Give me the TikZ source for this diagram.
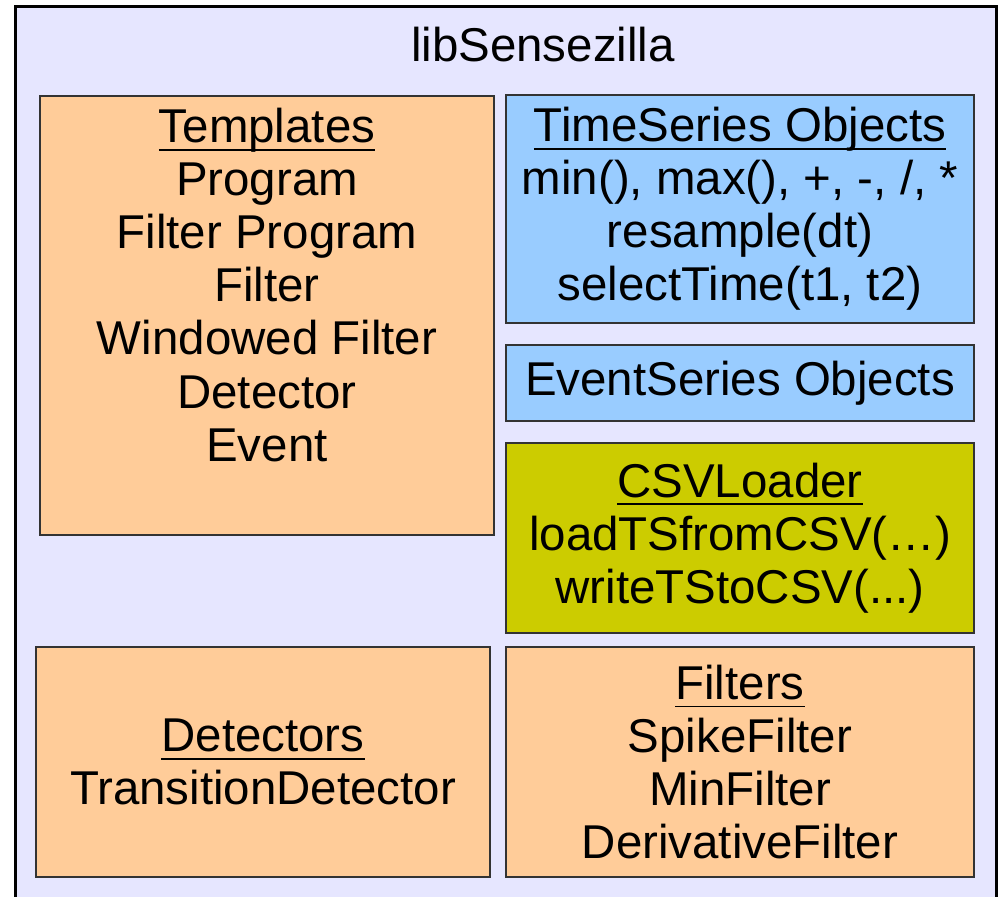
\documentclass[tikz,border=0pt]{standalone}
\usepackage{xcolor}
\usepackage{fontspec}
\setmainfont{Liberation Sans}
\usepackage{tikz}

\definecolor{lavanda}{HTML}{E6E6FF}
\definecolor{laranja}{HTML}{FFCC99}
\definecolor{azul}{HTML}{99CCFF}
\definecolor{oliva}{HTML}{CCCC00}

% sublinhado fixo abaixo da linha de base
\newcommand{\subl}[1]{\setbox0\hbox{#1}\rlap{\rule[-0.17em]{\wd0}{0.04em}}\box0}

\tikzset{
  texto/.style={align=center, inner sep=0pt, font=\fontsize{27}{30.2}\selectfont},
  caixa/.style={texto, draw=black!80, line width=1.2pt},
}

\begin{document}
\begin{tikzpicture}
\useasboundingbox (0,0) rectangle (20,17.92);

% Fundo (biblioteca)
\node[draw=black, line width=1.6pt, fill=lavanda, minimum width=19.62cm, minimum height=18.4cm, anchor=north west] (lib) at (0.28,17.82) {};
\node[texto] (titulo) at (10.86,17.02) {libSensezilla};

% Templates
\node[caixa, fill=laranja, minimum width=9.08cm, minimum height=8.78cm] (tmpl) at (5.34,11.61) {};
\node[texto, anchor=north] (tmpltxt) at ([yshift=-0.26cm]tmpl.north) {\subl{Templates}\\Program\\Filter Program\\Filter\\Windowed Filter\\Detector\\Event};

% TimeSeries
\node[caixa, fill=azul, minimum width=9.36cm, minimum height=4.56cm] (ts) at (14.8,13.74) {\subl{TimeSeries Objects}\\min(), max(), +, -, /, *\\resample(dt)\\selectTime(t1, t2)};

% EventSeries
\node[caixa, fill=azul, minimum width=9.36cm, minimum height=1.52cm] (es) at (14.8,10.26) {EventSeries Objects};

% CSVLoader
\node[caixa, fill=oliva, minimum width=9.36cm, minimum height=3.8cm] (csv) at (14.8,7.16) {\subl{CSVLoader}\\loadTSfromCSV(\dots)\\writeTStoCSV(...)};

% Detectors
\node[caixa, fill=laranja, minimum width=9.08cm, minimum height=4.6cm] (det) at (5.26,2.68) {\subl{Detectors}\\TransitionDetector};

% Filters
\node[caixa, fill=laranja, minimum width=9.36cm, minimum height=4.6cm] (filt) at (14.8,2.68) {\subl{Filters}\\SpikeFilter\\MinFilter\\DerivativeFilter};

\end{tikzpicture}
\end{document}
